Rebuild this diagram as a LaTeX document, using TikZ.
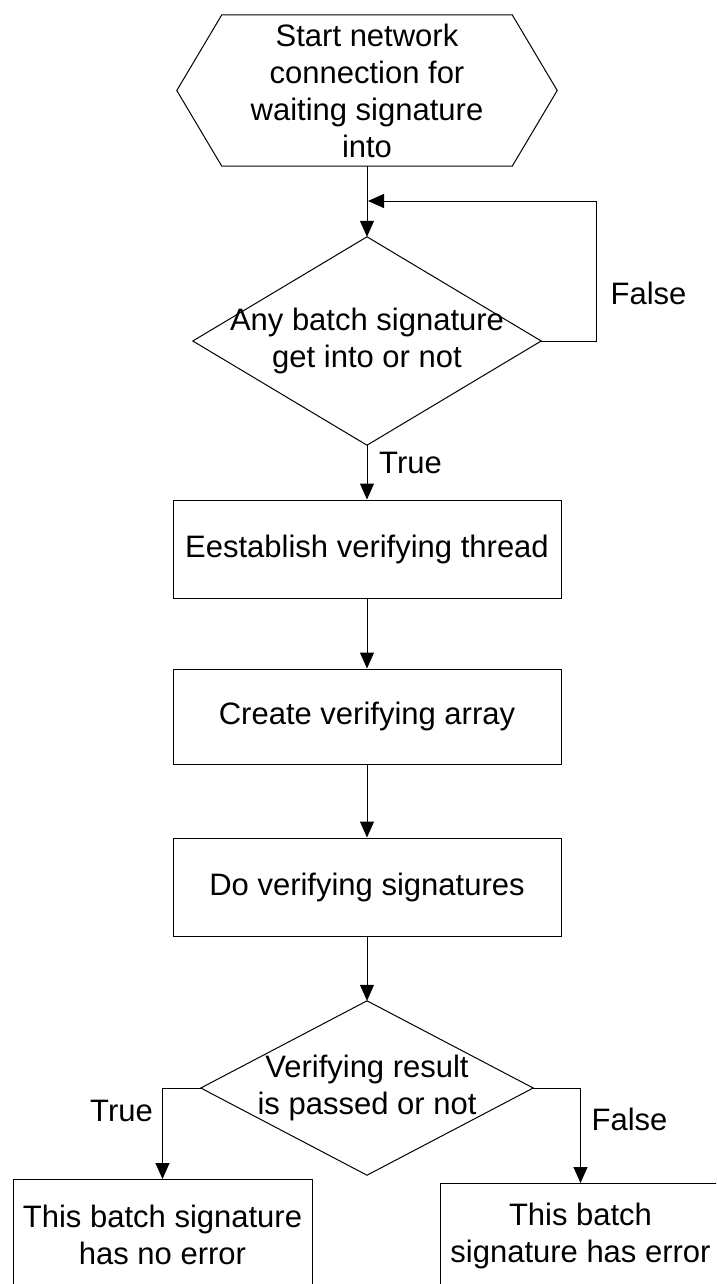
\documentclass[tikz,border=0pt]{standalone}
\usepackage{fontspec}
\setmainfont{Liberation Sans}
\usetikzlibrary{arrows.meta}
\tikzset{
  txt/.style={font=\fontsize{31}{37}\selectfont, align=center, inner sep=0pt},
  procbox/.style={txt, draw, line width=1pt, minimum width=388pt},
  ln/.style={line width=1pt, draw=black},
  arr/.style={ln, -{Triangle[length=16pt,width=14pt]}},
  lbl/.style={font=\fontsize{31}{37}\selectfont, inner sep=0pt},
}
\begin{document}
\begin{tikzpicture}[x=1pt,y=-1pt]
\clip (0,0) rectangle (716,1284);
\fill[white] (0,0) rectangle (716,1284);

% start hexagon
\node[txt, minimum width=380pt, minimum height=151pt] (hex) at (367,90.5)
  {Start network\\connection for\\waiting signature\\into};
\draw[ln] (hex.west) -- ([xshift=45pt]hex.north west) -- ([xshift=-45pt]hex.north east)
  -- (hex.east) -- ([xshift=-45pt]hex.south east) -- ([xshift=45pt]hex.south west) -- cycle;

% decision 1
\node[txt, minimum width=348pt, minimum height=208pt] (d1) at (367,341)
  {Any batch signature\\get into or not};
\draw[ln] (d1.north) -- (d1.east) -- (d1.south) -- (d1.west) -- cycle;

% process boxes
\node[procbox, minimum height=98pt] (b1) at (367,549) {Eestablish verifying thread};
\node[procbox, minimum height=95pt] (b2) at (367,716.5) {Create verifying array};
\node[procbox, minimum height=98pt] (b3) at (367,887) {Do verifying signatures};

% decision 2
\node[txt, minimum width=332pt, minimum height=174pt] (d2) at (367,1088)
  {Verifying result\\is passed or not};
\draw[ln] (d2.north) -- (d2.east) -- (d2.south) -- (d2.west) -- cycle;

% result boxes (cut off by the picture edge)
\node[txt, draw, line width=1pt, minimum width=299pt, minimum height=110pt, anchor=north] (ok) at (162.5,1179)
  {This batch signature\\has no error};
\node[txt, minimum width=279pt, minimum height=106pt, anchor=north] (err) at (580.5,1183)
  {This batch\\signature has error};
\draw[ln] ([yshift=-10pt]err.south west) -- (err.north west) -- ([xshift=20pt]err.north east);

% connectors
\draw[arr] (hex.south) -- (d1.north);
\coordinate (loopin) at (368,201);
\coordinate (loopcorner) at (596,201);
\draw[arr] (d1.east) -| (loopcorner) -- (loopin);
\node[lbl] (lfalse1) at (648.5,293) {False};
\draw[arr] (d1.south) -- (b1.north);
\node[lbl] (ltrue1) at (410.5,463) {True};
\draw[arr] (b1.south) -- (b2.north);
\draw[arr] (b2.south) -- (b3.north);
\draw[arr] (b3.south) -- (d2.north);
\draw[arr] (d2.west) -| (ok.north);
\node[lbl] (ltrue2) at (121.5,1111) {True};
\draw[arr] (d2.east) -| (err.north);
\node[lbl] (lfalse2) at (629.5,1119) {False};
\end{tikzpicture}
\end{document}
